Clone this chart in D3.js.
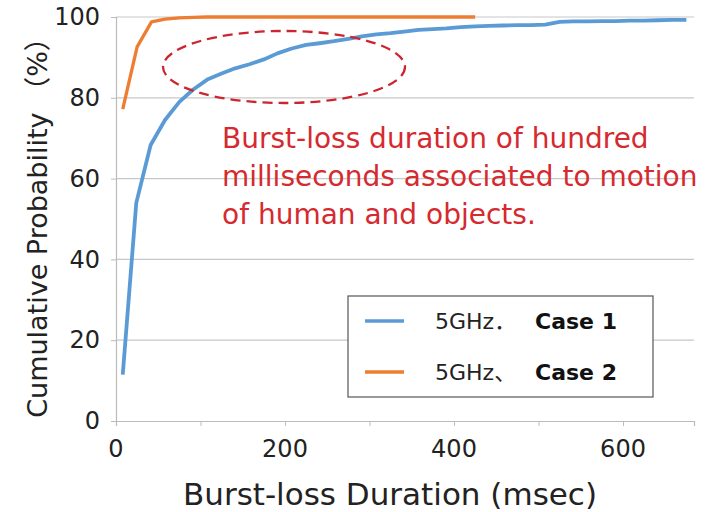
<!DOCTYPE html>
<html>
<head>
<meta charset="utf-8">
<script src="https://cdn.jsdelivr.net/npm/d3@7"></script>
<style>
  body { margin: 0; background: #fff; }
  text { font-family: "DejaVu Sans", "Noto Sans CJK JP", sans-serif; }
</style>
</head>
<body>
<script>
const w = 706;
const h = 512;

// burst-loss duration (msec) and cumulative probability (%)
const case1X = [8, 24, 41, 58, 75, 91, 108, 125, 141, 158, 175, 191, 208, 225, 241, 258, 275, 291, 308, 325, 341, 358, 375, 391, 408, 425, 441, 458, 475, 491, 508, 525, 541, 558, 575, 591, 608, 625, 641, 658, 675];
const case1Y = [11.5, 54, 68.3, 74.5, 79, 82, 84.5, 86, 87.3, 88.3, 89.5, 91, 92.2, 93.1, 93.5, 94, 94.6, 95.2, 95.7, 96, 96.4, 96.8, 97, 97.2, 97.5, 97.7, 97.8, 97.9, 98, 98, 98.1, 98.8, 98.9, 98.9, 99, 99, 99.1, 99.1, 99.2, 99.3, 99.3];
const case2X = [8, 25, 42, 58, 75, 91, 108, 200, 300, 425];
const case2Y = [77.2, 92.6, 98.8, 99.5, 99.8, 99.9, 100, 100, 100, 100];
const seriesNames = ['5GHz\uFF0E', '5GHz\u3001'];
const caseNames = ['Case 1', 'Case 2'];
const colors = ['#5b9bd5', '#ed7d31'];
const xTicks = [0, 200, 400, 600];
const xMinorTicks = [0, 100, 200, 300, 400, 500, 600];
const yTicks = [0, 20, 40, 60, 80, 100];
const note = ['Burst-loss duration of hundred', 'milliseconds associated to motion', 'of human and objects.'];

const svg = d3.select('body')
                .append('svg')
                .attr('width', w)
                .attr('height', h);

const xScale = d3.scaleLinear()
                .domain([0, 684])
                .range([116, 694]);
const yScale = d3.scaleLinear()
                .domain([0, 100])
                .range([421, 17]);

// gridlines
svg.append('g')
    .selectAll('line')
    .data(yTicks.slice(1))
    .enter()
    .append('line')
    .attr('x1', xScale(0))
    .attr('x2', xScale(684))
    .attr('y1', (d) => yScale(d))
    .attr('y2', (d) => yScale(d))
    .attr('stroke', '#c8c8c8')
    .attr('stroke-width', 1.2);

const xAxis = d3.axisBottom(xScale)
                .tickValues(xMinorTicks)
                .tickSize(5)
                .tickFormat('');
const gx = svg.append('g')
    .attr('transform', 'translate(0, ' + yScale(0) + ')')
    .call(xAxis);
gx.select('.domain').attr('stroke', '#bbb').attr('stroke-width', 1.2);
gx.selectAll('.tick line').attr('stroke', '#bbb');

svg.append('g')
    .selectAll('text')
    .data(xTicks)
    .enter()
    .append('text')
    .attr('x', (d) => xScale(d))
    .attr('y', 457)
    .attr('text-anchor', 'middle')
    .attr('font-size', 24)
    .attr('fill', '#222')
    .text((d) => d);

const yAxis = d3.axisLeft(yScale)
                .tickValues(yTicks)
                .tickSize(5)
                .tickPadding(11);
const gy = svg.append('g')
    .attr('transform', 'translate(' + xScale(0) + ', 0)')
    .call(yAxis);
gy.select('.domain').attr('stroke', '#bbb').attr('stroke-width', 1.2);
gy.selectAll('.tick line').attr('stroke', '#bbb');
gy.selectAll('.tick text')
    .attr('font-size', 24)
    .attr('fill', '#222')
    .attr('font-family', '"DejaVu Sans", sans-serif');

// axis titles
svg.append('text')
    .attr('x', 390)
    .attr('y', 505)
    .attr('text-anchor', 'middle')
    .attr('font-size', 31)
    .attr('fill', '#222')
    .text('Burst-loss Duration (msec)');

svg.append('text')
    .attr('transform', 'translate(47, 221) rotate(-90)')
    .attr('text-anchor', 'middle')
    .attr('font-size', 27)
    .attr('fill', '#222')
    .text('Cumulative Probability \uFF08%\uFF09');

// curves
const line = d3.line()
                .x((d) => xScale(d[0]))
                .y((d) => yScale(d[1]));

const series = [d3.zip(case1X, case1Y), d3.zip(case2X, case2Y)];

svg.selectAll('path.curve')
    .data(series)
    .enter()
    .append('path')
    .attr('class', 'curve')
    .attr('d', line)
    .attr('fill', 'none')
    .attr('stroke', (d, i) => colors[i])
    .attr('stroke-width', (d, i) => i === 0 ? 3.8 : 3.3)
    .attr('stroke-linejoin', 'round');

// annotation
svg.append('ellipse')
    .attr('cx', 284)
    .attr('cy', 67)
    .attr('rx', 121)
    .attr('ry', 36)
    .attr('fill', 'none')
    .attr('stroke', '#cc2530')
    .attr('stroke-width', 2.3)
    .attr('stroke-dasharray', '10,6');

svg.append('g')
    .selectAll('text')
    .data(note)
    .enter()
    .append('text')
    .attr('x', 222)
    .attr('y', (d, i) => 148 + i * 38)
    .attr('font-size', 28)
    .attr('fill', '#d42a30')
    .text((d) => d);

// legend
const legend = svg.append('g');
legend.append('rect')
    .attr('x', 348)
    .attr('y', 296)
    .attr('width', 305)
    .attr('height', 101)
    .attr('fill', '#fff')
    .attr('stroke', '#555')
    .attr('stroke-width', 1.2);

const rows = legend.selectAll('g.row')
    .data(caseNames)
    .enter()
    .append('g')
    .attr('class', 'row')
    .attr('transform', (d, i) => 'translate(0, ' + (321 + i * 51) + ')');
rows.append('line')
    .attr('x1', 365)
    .attr('x2', 404)
    .attr('stroke', (d, i) => colors[i])
    .attr('stroke-width', 3.5);
rows.append('text')
    .attr('x', 435)
    .attr('y', 8)
    .attr('font-size', 22)
    .attr('fill', '#222')
    .text((d, i) => seriesNames[i]);
rows.append('text')
    .attr('x', 535)
    .attr('y', 8)
    .attr('font-size', 22)
    .attr('font-weight', 'bold')
    .attr('fill', '#111')
    .text((d) => d);
</script>
</body>
</html>
